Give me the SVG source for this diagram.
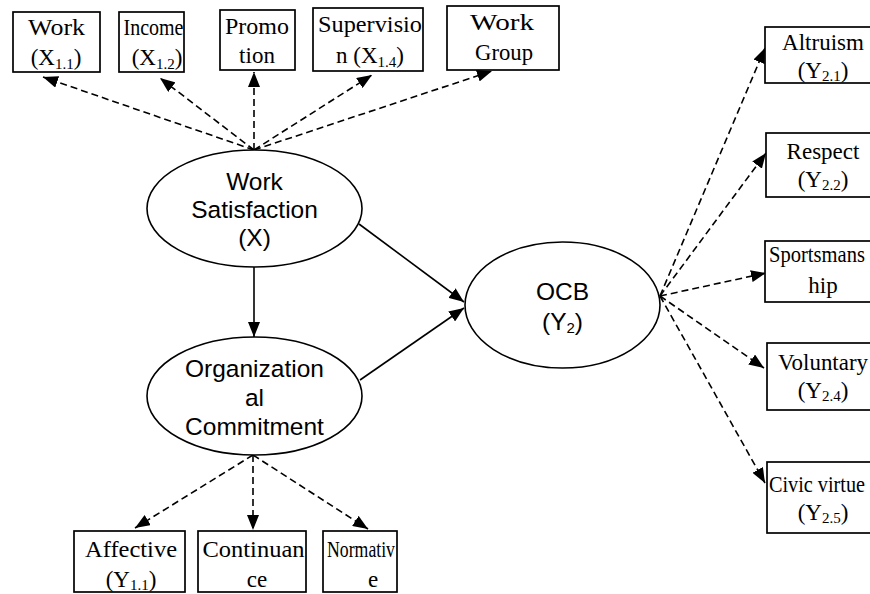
<svg xmlns="http://www.w3.org/2000/svg" width="870" height="594" viewBox="0 0 870 594">
<defs>
<marker id="ah" viewBox="0 0 15 12" markerWidth="15" markerHeight="12" refX="15" refY="6" orient="auto" markerUnits="userSpaceOnUse">
<path d="M0,0 L15,6 L0,12 z" fill="#000"/>
</marker>
</defs>
<style>
.box{fill:#fff;stroke:#000;stroke-width:1.7}
.ell{fill:#fff;stroke:#000;stroke-width:1.6}
.bt{font-family:"Liberation Serif","Times New Roman",serif;font-size:23px;fill:#000;text-anchor:middle}
.bl{font-family:"Liberation Serif","Times New Roman",serif;font-size:23px;fill:#000}
.et{font-family:"Liberation Sans",Arial,sans-serif;font-size:24.5px;fill:#000;text-anchor:middle}
.sub{font-size:15px}
.dash{fill:none;stroke:#000;stroke-width:1.6;stroke-dasharray:7 4;marker-end:url(#ah)}
.solid{fill:none;stroke:#000;stroke-width:1.6;marker-end:url(#ah)}
</style>
<rect width="870" height="594" fill="#fff"/>

<g id="connectors">
<line class="dash" x1="254" y1="150" x2="43" y2="77"/>
<line class="dash" x1="254" y1="150" x2="160" y2="78"/>
<line class="dash" x1="254" y1="150" x2="254" y2="72"/>
<line class="dash" x1="254" y1="150" x2="372" y2="75"/>
<line class="dash" x1="254" y1="150" x2="492" y2="71"/>
<line class="solid" x1="254" y1="267" x2="254" y2="337"/>
<line class="solid" x1="359" y1="224" x2="464" y2="302"/>
<line class="solid" x1="360" y1="380" x2="464" y2="308"/>
<line class="dash" x1="253" y1="455" x2="135" y2="528"/>
<line class="dash" x1="253" y1="455" x2="253" y2="530"/>
<line class="dash" x1="253" y1="455" x2="368" y2="529"/>
<line class="dash" x1="660" y1="296" x2="765" y2="48"/>
<line class="dash" x1="660" y1="296" x2="766" y2="153"/>
<line class="dash" x1="660" y1="296" x2="766" y2="273"/>
<line class="dash" x1="660" y1="296" x2="764" y2="368"/>
<line class="dash" x1="660" y1="296" x2="765" y2="483"/>
</g>

<g id="x11">
<rect class="box" x="13" y="12" width="87" height="60"/>
<text class="bt" x="56.5" y="35" textLength="57" lengthAdjust="spacingAndGlyphs">Work</text>
<text class="bt" x="56" y="65">(X<tspan class="sub" dy="4">1.1</tspan><tspan dy="-4">)</tspan></text>
</g>
<g id="x12">
<rect class="box" x="119" y="12" width="65" height="60"/>
<text class="bt" x="153.5" y="35" textLength="60" lengthAdjust="spacingAndGlyphs">Income</text>
<text class="bt" x="157" y="65">(X<tspan class="sub" dy="4">1.2</tspan><tspan dy="-4">)</tspan></text>
</g>
<g id="x13">
<rect class="box" x="220" y="10" width="75" height="60"/>
<text class="bt" x="257" y="34" textLength="64" lengthAdjust="spacingAndGlyphs">Promo</text>
<text class="bt" x="257" y="63">tion</text>
</g>
<g id="x14">
<rect class="box" x="313" y="8" width="110" height="63"/>
<text class="bt" x="370" y="32" textLength="104" lengthAdjust="spacingAndGlyphs">Supervisio</text>
<text class="bt" x="370" y="63">n (X<tspan class="sub" dy="4">1.4</tspan><tspan dy="-4">)</tspan></text>
</g>
<g id="x15">
<rect class="box" x="447" y="6" width="112" height="64"/>
<text class="bt" x="502" y="30" textLength="64" lengthAdjust="spacingAndGlyphs">Work</text>
<text class="bt" x="504" y="60" textLength="58" lengthAdjust="spacingAndGlyphs">Group</text>
</g>

<g id="ws">
<ellipse class="ell" cx="254.5" cy="208.5" rx="107.5" ry="58.5"/>
<text class="et" x="254.5" y="190">Work</text>
<text class="et" x="254.5" y="218">Satisfaction</text>
<text class="et" x="254.5" y="246">(X)</text>
</g>
<g id="oc">
<ellipse class="ell" cx="254.5" cy="396" rx="107.5" ry="59"/>
<text class="et" x="254.5" y="377">Organization</text>
<text class="et" x="254.5" y="406">al</text>
<text class="et" x="254.5" y="435">Commitment</text>
</g>
<g id="ocb">
<ellipse class="ell" cx="562.5" cy="305" rx="97.5" ry="63"/>
<text class="et" x="562.5" y="300">OCB</text>
<text class="et" x="562.5" y="330">(Y<tspan class="sub" dy="3">2</tspan><tspan dy="-3">)</tspan></text>
</g>

<g id="y11">
<rect class="box" x="74" y="531" width="111" height="61"/>
<text class="bt" x="131" y="557" textLength="92" lengthAdjust="spacingAndGlyphs">Affective</text>
<text class="bt" x="131" y="587">(Y<tspan class="sub" dy="3">1.1</tspan><tspan dy="-3">)</tspan></text>
</g>
<g id="y12">
<rect class="box" x="198" y="531" width="108" height="61"/>
<text class="bt" x="253.5" y="557" textLength="102" lengthAdjust="spacingAndGlyphs">Continuan</text>
<text class="bt" x="257" y="587">ce</text>
</g>
<g id="y13">
<rect class="box" x="323" y="531" width="74" height="61"/>
<text class="bl" x="327" y="557" textLength="68" lengthAdjust="spacingAndGlyphs">Normativ</text>
<text class="bt" x="373" y="587">e</text>
</g>

<g id="y21">
<rect class="box" x="765" y="27" width="120" height="56"/>
<text class="bt" x="823" y="50">Altruism</text>
<text class="bt" x="823" y="78">(Y<tspan class="sub" dy="3">2.1</tspan><tspan dy="-3">)</tspan></text>
</g>
<g id="y22">
<rect class="box" x="766" y="133" width="120" height="64"/>
<text class="bt" x="823" y="159">Respect</text>
<text class="bt" x="823" y="187">(Y<tspan class="sub" dy="3">2.2</tspan><tspan dy="-3">)</tspan></text>
</g>
<g id="y23">
<rect class="box" x="765" y="241" width="120" height="61"/>
<text class="bl" x="769" y="262" textLength="96" lengthAdjust="spacingAndGlyphs">Sportsmans</text>
<text class="bt" x="823" y="293">hip</text>
</g>
<g id="y24">
<rect class="box" x="767" y="343" width="120" height="67"/>
<text class="bt" x="823" y="370" textLength="90" lengthAdjust="spacingAndGlyphs">Voluntary</text>
<text class="bt" x="823" y="398">(Y<tspan class="sub" dy="3">2.4</tspan><tspan dy="-3">)</tspan></text>
</g>
<g id="y25">
<rect class="box" x="767" y="462" width="120" height="71"/>
<text class="bl" x="769" y="492" textLength="96" lengthAdjust="spacingAndGlyphs">Civic virtue</text>
<text class="bt" x="823" y="520">(Y<tspan class="sub" dy="3">2.5</tspan><tspan dy="-3">)</tspan></text>
</g>
</svg>
